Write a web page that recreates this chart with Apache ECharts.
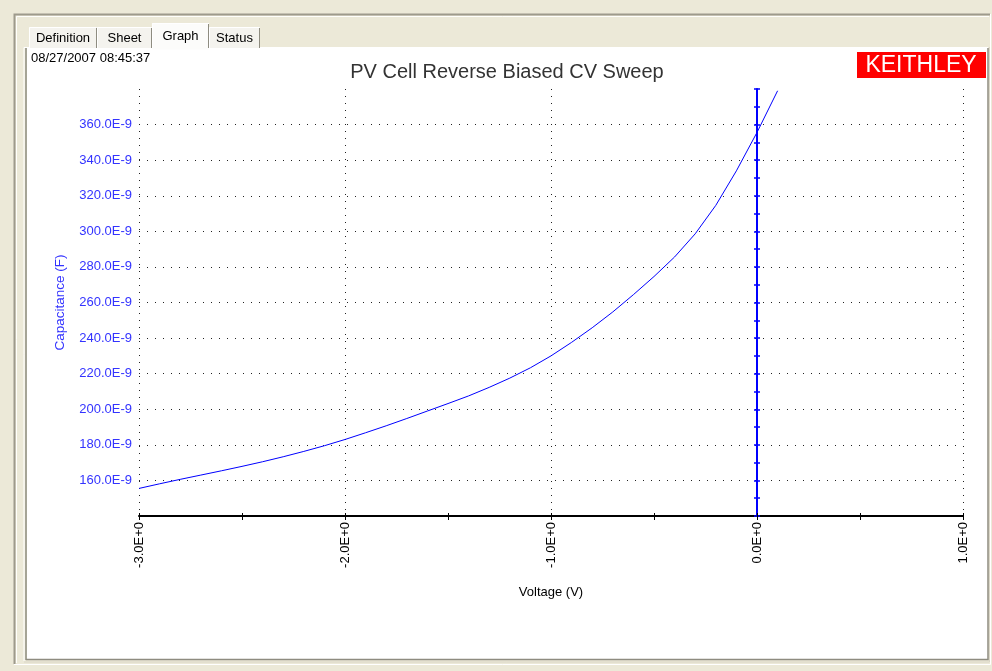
<!DOCTYPE html>
<html><head><meta charset="utf-8">
<script src="https://cdn.jsdelivr.net/npm/echarts@6/dist/echarts.min.js"></script>
<style>html,body{margin:0;padding:0;background:#ece9d8;}#c{width:992px;height:671px;}</style>
</head><body><div id="c"></div>
<script>
// Voltage (V)
const voltage = [-3.0,-2.9,-2.8,-2.7,-2.6,-2.5,-2.4,-2.3,-2.2,-2.1,-2.0,-1.9,-1.8,-1.7,-1.6,-1.5,-1.4,-1.3,-1.2,-1.1,-1.0,-0.9,-0.8,-0.7,-0.6,-0.5,-0.4,-0.3,-0.2,-0.1,0.0,0.1];
// Capacitance (nF, i.e. E-9 F)
const capacitance = [155.5,158.1,160.6,163.0,165.4,167.9,170.5,173.3,176.3,179.5,183.0,186.8,190.7,194.8,199.0,203.2,207.5,212.3,217.5,223.3,230.0,237.6,245.8,254.7,264.4,274.6,285.6,298.6,314.6,334.0,355.6,379.0];
const xLabelValues = [-3,-2,-1,0,1];
const yLabelValues = [160,180,200,220,240,260,280,300,320,340,360];
const tabNames = ['Definition','Sheet','Graph','Status'];
const titleText = 'PV Cell Reverse Biased CV Sweep';
const stampText = '08/27/2007 08:45:37';
const logoText = 'KEITHLEY';
const xName = 'Voltage (V)';
const yName = 'Capacitance (F)';

const FONT = '"Liberation Sans", Arial, sans-serif';
const chart = echarts.init(document.getElementById('c'), null, {renderer:'canvas'});

const tabBoxes = [
  {x:29, w:68, top:27, sel:false},
  {x:97, w:55, top:27, sel:false},
  {x:152, w:57, top:23, sel:true},
  {x:209, w:51, top:27, sel:false}
];
const graphics = [];
graphics.push({type:'rect', shape:{x:14,y:14,width:976,height:650}, style:{fill:'#ece9d8', stroke:null}, z:-10});
graphics.push({type:'polyline', shape:{points:[[14.5,664],[14.5,14.5],[990,14.5]]}, style:{stroke:'#9d9a8c', lineWidth:2, fill:null}, z:-9});
graphics.push({type:'polyline', shape:{points:[[16.5,663],[16.5,16.5],[989,16.5]]}, style:{stroke:'#fffffb', lineWidth:1, fill:null}, z:-9});
graphics.push({type:'polyline', shape:{points:[[14,664.5],[990.5,664.5],[990.5,14]]}, style:{stroke:'#ffffff', lineWidth:1, fill:null}, z:-9});
graphics.push({type:'rect', shape:{x:27,y:48,width:961,height:612}, style:{fill:'#ffffff', stroke:null}, z:-8});
graphics.push({type:'polyline', shape:{points:[[26,660],[26,48]]}, style:{stroke:'#8e8c80', lineWidth:1.5, fill:null}, z:-7});
graphics.push({type:'polyline', shape:{points:[[24,661],[24,47.5],[988,47.5]]}, style:{stroke:'#ffffff', lineWidth:1, fill:null}, z:-7});
graphics.push({type:'polyline', shape:{points:[[26,659.5],[988,659.5],[988,48]]}, style:{stroke:'#8e8c80', lineWidth:1.5, fill:null}, z:-7});
graphics.push({type:'polyline', shape:{points:[[24,662],[989.5,662],[989.5,47]]}, style:{stroke:'#dad6c6', lineWidth:1, fill:null}, z:-7});
tabBoxes.forEach((t,i)=>{
  graphics.push({type:'rect', shape:{x:t.x, y:t.top, width:t.w, height:48-t.top + (t.sel?1.5:0)}, style:{fill: t.sel ? '#fcfcfa' : '#f4f3ee', stroke:null}, z:-6});
  graphics.push({type:'polyline', shape:{points:[[t.x+0.5,48],[t.x+0.5,t.top+0.5],[t.x+t.w-0.5,t.top+0.5]]}, style:{stroke:'#ffffff', lineWidth:1, fill:null}, z:-5});
  graphics.push({type:'polyline', shape:{points:[[t.x+t.w-0.5,t.top+1],[t.x+t.w-0.5,48]]}, style:{stroke:'#8e8c80', lineWidth:1, fill:null}, z:-5});
  graphics.push({type:'text', x:t.x + t.w/2, y:(t.top+48)/2 + 1, style:{text:tabNames[i], font:'13px ' + FONT, fill:'#000', align:'center', verticalAlign:'middle'}, z:-4});
});
graphics.push({type:'text', x:31, y:58, style:{text:stampText, font:'13px ' + FONT, fill:'#000', verticalAlign:'middle'}});
graphics.push({type:'rect', shape:{x:857,y:52,width:129,height:26}, style:{fill:'#ff0000'}});
graphics.push({type:'text', x:921, y:66, style:{text:logoText, font:'23px ' + FONT, fill:'#ffffff', align:'center', verticalAlign:'middle'}});

const dotted = (gap)=>({color:'#222', width:1, type:[1,gap]});

chart.setOption({
  animation:false,
  backgroundColor:'transparent',
  title:{text:titleText, left:507, top:62, textAlign:'center', padding:0,
    textStyle:{fontFamily:FONT, fontSize:20, fontWeight:'normal', color:'#333'}},
  grid:{left:139, right:29, top:89, bottom:155, containLabel:false, outerBoundsMode:'none'},
  graphic:graphics,
  xAxis:[
    {type:'value', min:-3, max:1, interval:1, position:'bottom',
      name:xName, nameLocation:'middle', nameGap:70,
      nameTextStyle:{fontFamily:FONT, fontSize:13, color:'#000'},
      axisLine:{show:true, onZero:false, lineStyle:{color:'#000', width:2}},
      axisTick:{show:true, length:4, lineStyle:{color:'#000', width:1}},
      minorTick:{show:true, splitNumber:2, length:4, lineStyle:{color:'#000', width:1}},
      axisLabel:{rotate:90, margin:6, fontFamily:FONT, fontSize:13, color:'#000',
        formatter:(v)=> xLabelValues.includes(v) ? v.toFixed(1)+'E+0' : ''},
      splitLine:{show:true, showMinLine:true, showMaxLine:true, lineStyle:dotted(6)}},
    {type:'value', min:-3, max:1, interval:1, position:'bottom',
      axisLine:{show:false, onZero:false},
      axisTick:{show:true, inside:true, length:3, lineStyle:{color:'#000', width:1}},
      minorTick:{show:true, splitNumber:2, length:3, lineStyle:{color:'#000', width:1}},
      axisLabel:{show:false}, splitLine:{show:false}}
  ],
  yAxis:[
    {type:'value', min:140, max:380, interval:20, position:'left',
      name:yName, nameLocation:'middle', nameGap:72, nameRotate:90,
      nameTextStyle:{fontFamily:FONT, fontSize:13.5, color:'#3333ff'},
      axisLine:{show:false, onZero:false},
      axisTick:{show:false},
      axisLabel:{margin:7, fontFamily:FONT, fontSize:13, color:'#3333ff',
        formatter:(v)=> yLabelValues.includes(v) ? v.toFixed(1)+'E-9' : ''},
      splitLine:{show:true, showMinLine:false, showMaxLine:false, lineStyle:dotted(7)}},
    {type:'value', min:140, max:380, interval:10, position:'left',
      axisLine:{show:true, onZero:true, lineStyle:{color:'#0000ff', width:2}},
      axisTick:{show:true, length:3, lineStyle:{color:'#0000ff', width:1.5}},
      axisLabel:{show:false}, splitLine:{show:false}},
    {type:'value', min:140, max:380, interval:10, position:'left',
      axisLine:{show:false, onZero:true},
      axisTick:{show:true, inside:true, length:3, lineStyle:{color:'#0000ff', width:1.5}},
      axisLabel:{show:false}, splitLine:{show:false}}
  ],
  series:[{
    type:'line', xAxisIndex:0, yAxisIndex:0,
    data: voltage.map((v,i)=>[v, capacitance[i]]),
    showSymbol:false, symbol:'none', smooth:false,
    lineStyle:{color:'#0000ff', width:1}, z:5
  }]
});
</script></body></html>
